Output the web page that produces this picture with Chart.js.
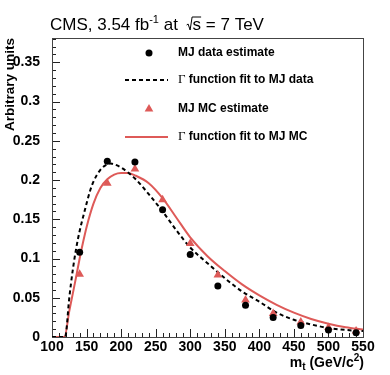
<!DOCTYPE html>
<html>
<head>
<meta charset="utf-8">
<script src="https://cdn.jsdelivr.net/npm/chart.js@4.4.1/dist/chart.umd.min.js"></script>
<style>
    html, body { margin: 0; padding: 0; background: #fff; }
</style>
</head>
<body>
<canvas id="chartmass" width="390" height="375"></canvas>
<script>
const massBins = [140, 180, 220, 260, 300, 340, 380, 420, 460, 500, 540]
const dataEstimate = [0.108, 0.224, 0.223, 0.162, 0.105, 0.065, 0.0405, 0.025, 0.0145, 0.009, 0.0055]
const mcEstimate = [0.080, 0.196, 0.214, 0.175, 0.119, 0.079, 0.047, 0.030, 0.019, 0.012, 0.0075]

const dataFitMass = [100, 119, 125, 130, 135, 140, 145, 150, 155, 160, 170, 180, 185, 190, 200, 220, 240, 260, 280, 300, 325, 350, 375, 400, 425, 450, 475, 500, 525, 550]
const dataFitValue = [0, 0, 0.05, 0.085, 0.113, 0.135, 0.153, 0.170, 0.186, 0.198, 0.213, 0.220, 0.221, 0.220, 0.216, 0.202, 0.182, 0.160, 0.136, 0.114, 0.094, 0.075, 0.058, 0.045, 0.031, 0.022, 0.016, 0.0115, 0.009, 0.0075]

const mcFitMass = [100, 118, 125, 130, 135, 140, 145, 150, 160, 170, 180, 190, 200, 210, 220, 240, 260, 280, 300, 325, 350, 375, 400, 425, 450, 475, 500, 525, 550]
const mcFitValue = [0, 0, 0.033, 0.055, 0.077, 0.100, 0.121, 0.140, 0.170, 0.190, 0.201, 0.207, 0.209, 0.209, 0.206, 0.196, 0.177, 0.152, 0.127, 0.103, 0.084, 0.067, 0.053, 0.041, 0.031, 0.023, 0.017, 0.0125, 0.0095]

const xTicks = [100, 150, 200, 250, 300, 350, 400, 450, 500, 550]
const yTicks = [0, 0.05, 0.1, 0.15, 0.2, 0.25, 0.3, 0.35]

const FONT = '"Liberation Sans", Arial, Helvetica, sans-serif'
const SERIF = '"Liberation Serif", "Times New Roman", serif'
const RED = 'rgb(222, 90, 88)'

const pairs = (xs, ys) => xs.map((x, i) => ({x: x, y: ys[i]}))

// ROOT style frame with inward ticks
const frameTicks = {
    id: 'frameTicks',
    beforeDatasetsDraw(chart) {
        const ctx = chart.ctx
        const a = chart.chartArea
        const xs = chart.scales.x
        const ys = chart.scales.y
        ctx.save()
        ctx.strokeStyle = '#222'
        ctx.lineWidth = 1
        ctx.beginPath()
        for (let v = 100; v <= 550; v += 10) {
            const px = Math.round(xs.getPixelForValue(v)) + 0.5
            const len = v % 50 === 0 ? 8 : 4
            ctx.moveTo(px, a.bottom)
            ctx.lineTo(px, a.bottom - len)
        }
        for (let i = 0; i <= 38; i++) {
            const v = i / 100
            const py = Math.round(ys.getPixelForValue(v)) + 0.5
            const len = i % 5 === 0 ? 8 : 4
            ctx.moveTo(a.left, py)
            ctx.lineTo(a.left + len, py)
        }
        ctx.stroke()
        ctx.strokeStyle = '#444'
        ctx.strokeRect(Math.round(a.left) + 0.5, Math.round(a.top) + 0.5, Math.round(a.right - a.left), Math.round(a.bottom - a.top))
        ctx.restore()
    }
}

const texts = {
    id: 'texts',
    afterDraw(chart) {
        const ctx = chart.ctx
        const ds = chart.data.datasets
        ctx.save()
        ctx.fillStyle = '#000'
        ctx.textBaseline = 'alphabetic'

        // title
        let x = 50
        const by = 30
        const tf = '17px ' + FONT
        ctx.font = tf
        ctx.fillText('CMS, 3.54 fb', x, by)
        x += ctx.measureText('CMS, 3.54 fb').width
        ctx.font = '11px ' + FONT
        ctx.fillText('-1', x, by - 7)
        x += ctx.measureText('-1').width
        ctx.font = tf
        ctx.fillText(' at ', x, by)
        x += ctx.measureText(' at ').width + 4
        // sqrt sign
        ctx.strokeStyle = '#000'
        ctx.lineWidth = 1
        ctx.beginPath()
        ctx.moveTo(x, by - 5)
        ctx.lineTo(x + 1.5, by - 6)
        ctx.lineTo(x + 3.5, by)
        ctx.lineTo(x + 5.5, by - 13)
        const sw = ctx.measureText('s').width
        ctx.lineTo(x + 6 + sw, by - 13)
        ctx.stroke()
        x += 6
        ctx.fillText('s = 7 TeV', x, by)

        // y axis title
        ctx.save()
        ctx.translate(14, 38)
        ctx.rotate(-Math.PI / 2)
        ctx.textAlign = 'right'
        ctx.font = 'bold 13.5px ' + FONT
        ctx.fillText('Arbitrary units', 0, 0)
        ctx.restore()

        // x axis title: m_t (GeV/c^2)
        const parts = [
            ['m', 'bold 14px ' + FONT, 0],
            ['t', 'bold 10px ' + FONT, 3],
            [' (GeV/c', 'bold 14px ' + FONT, 0],
            ['2', 'bold 10px ' + FONT, -6],
            [')', 'bold 14px ' + FONT, 0]
        ]
        let total = 0
        parts.forEach(p => { ctx.font = p[1]; total += ctx.measureText(p[0]).width })
        x = 364 - total
        parts.forEach(p => {
            ctx.font = p[1]
            ctx.fillText(p[0], x, 367 + p[2])
            x += ctx.measureText(p[0]).width
        })

        // legend
        const rows = [
            {y: 53, ds: ds[0], kind: 'marker', text: 'MJ data estimate'},
            {y: 80, ds: ds[2], kind: 'line', text: 'function fit to MJ data', gamma: true},
            {y: 109, ds: ds[1], kind: 'marker', text: 'MJ MC estimate'},
            {y: 137, ds: ds[3], kind: 'line', text: 'function fit to MJ MC', gamma: true}
        ]
        ctx.textBaseline = 'middle'
        rows.forEach(r => {
            if (r.kind === 'marker') {
                ctx.fillStyle = r.ds.pointBackgroundColor
                Chart.helpers.drawPoint(ctx, {
                    pointStyle: r.ds.pointStyle, radius: r.ds.pointRadius, rotation: 0, borderWidth: 0
                }, 149, r.y)
            } else {
                ctx.strokeStyle = r.ds.borderColor
                ctx.lineWidth = r.ds.borderWidth
                ctx.setLineDash(r.ds.borderDash || [])
                ctx.beginPath()
                ctx.moveTo(125, r.y)
                ctx.lineTo(168, r.y)
                ctx.stroke()
                ctx.setLineDash([])
            }
            ctx.fillStyle = '#000'
            let tx = 178
            if (r.gamma) {
                ctx.font = '13px ' + SERIF
                ctx.fillText('\u0393', tx, r.y)
                tx += ctx.measureText('\u0393 ').width
            }
            ctx.font = 'bold 12px ' + FONT
            ctx.fillText(r.text, tx, r.y)
        })
        ctx.restore()
    }
}

const chart = new Chart(document.getElementById('chartmass'), {
    type: 'scatter',
    data: {
        datasets: [{
            label: 'MJ data estimate',
            data: pairs(massBins, dataEstimate),
            pointStyle: 'circle',
            pointRadius: 3.5,
            pointBackgroundColor: '#000',
            pointBorderWidth: 0,
            showLine: false,
            order: 0
        }, {
            label: 'MJ MC estimate',
            data: pairs(massBins, mcEstimate),
            pointStyle: 'triangle',
            pointRadius: 5,
            pointBackgroundColor: RED,
            pointBorderWidth: 0,
            showLine: false,
            order: 1
        }, {
            label: 'Gamma function fit to MJ data',
            data: pairs(dataFitMass, dataFitValue),
            showLine: true,
            pointRadius: 0,
            borderColor: '#000',
            borderWidth: 2,
            borderDash: [4, 3],
            cubicInterpolationMode: 'monotone',
            order: 2
        }, {
            label: 'Gamma function fit to MJ MC',
            data: pairs(mcFitMass, mcFitValue),
            showLine: true,
            pointRadius: 0,
            borderColor: RED,
            borderWidth: 2,
            cubicInterpolationMode: 'monotone',
            order: 3
        }]
    },
    options: {
        responsive: false,
        animation: false,
        layout: {padding: {left: 0, top: 38, right: 27, bottom: 0}},
        plugins: {legend: {display: false}, tooltip: {enabled: false}},
        scales: {
            x: {
                type: 'linear', min: 100, max: 550,
                grid: {display: false}, border: {display: false},
                afterBuildTicks(s) { s.ticks = xTicks.map(v => ({value: v})) },
                ticks: {font: {family: FONT, size: 14, weight: 'bold'}, color: '#000', padding: -6, maxRotation: 0, autoSkip: false},
                afterFit(s) { s.height = 38 }
            },
            y: {
                type: 'linear', min: 0, max: 0.381,
                grid: {display: false}, border: {display: false},
                afterBuildTicks(s) { s.ticks = yTicks.map(v => ({value: v})) },
                ticks: {font: {family: FONT, size: 14, weight: 'bold'}, color: '#000', padding: 4, autoSkip: false,
                    callback: v => String(+v.toFixed(2))},
                afterFit(s) { s.width = 52 }
            }
        }
    },
    plugins: [frameTicks, texts]
})
</script>
</body>
</html>
